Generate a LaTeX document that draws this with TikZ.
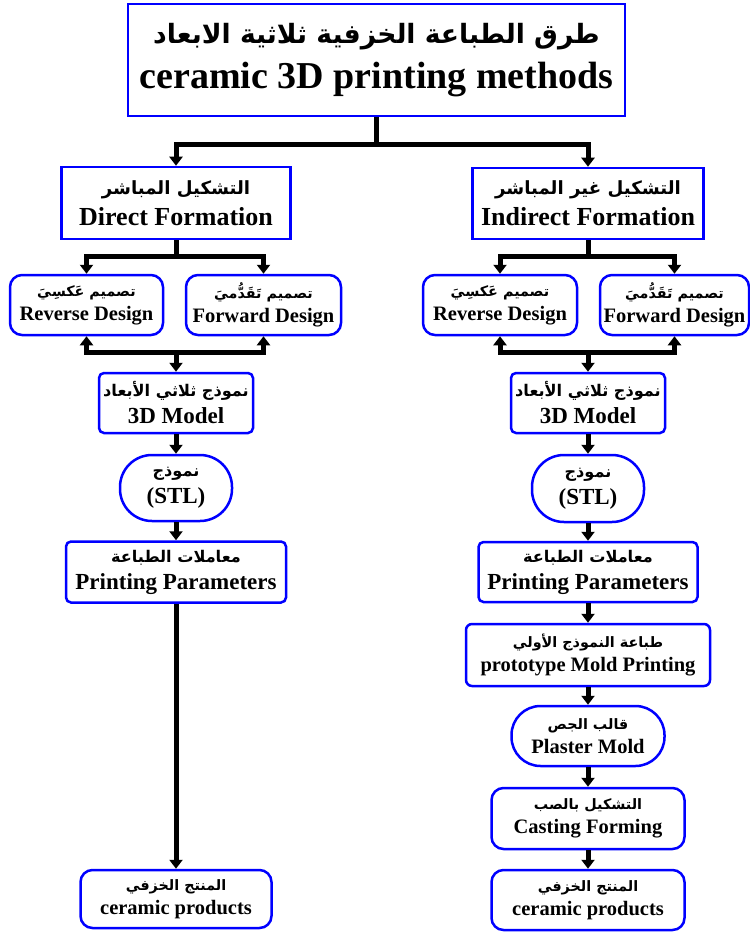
\documentclass[tikz,border=0pt]{standalone}
\usepackage{fontspec}
\setmainfont{Liberation Serif}
\newfontfamily\arabicfont[Script=Arabic,Scale=0.7]{DejaVu Sans}
\TeXXeTstate=1
\usetikzlibrary{arrows.meta, positioning, calc}
\newcommand{\artext}[1]{{\arabicfont\beginR#1\endR}}
\tikzset{
    box/.style={draw=blue, line width=2.5pt, fill=white, align=center, inner sep=0pt},
    flow/.style={line width=5pt, -{Triangle[width=13pt,length=9pt]}},
    link/.style={line width=5pt},
    hugetext/.style={font=\bfseries\fontsize{38}{45}\selectfont},
    bigtext/.style={font=\bfseries\fontsize{26}{31}\selectfont},
    midtext/.style={font=\bfseries\fontsize{23}{27}\selectfont},
    smalltext/.style={font=\bfseries\fontsize{20.5}{24}\selectfont},
}
\begin{document}
\begin{tikzpicture}[x=1pt, y=-1pt]
    \useasboundingbox (0,0) rectangle (749,933);

    % ---------------------------------------------------
    % Title and the two branches
    % ---------------------------------------------------
    \node[box, hugetext, minimum width=497, minimum height=112] (title) at (376.5,60)
        {\artext{طرق الطباعة الخزفية ثلاثية الابعاد}\\ceramic 3D printing methods};
    \node[box, bigtext, minimum width=229, minimum height=72] (direct) at (176,203)
        {\artext{التشكيل المباشر}\\Direct Formation};
    \node[box, bigtext, minimum width=231, minimum height=71] (indirect) at (588,203.5)
        {\artext{التشكيل غير المباشر}\\Indirect Formation};

    \coordinate (forkTop) at (376.5,145);
    \draw[link] (title.south) -- (forkTop);
    \draw[flow] (forkTop) -| (direct.north);
    \draw[flow] (forkTop) -| (indirect.north);

    % ---------------------------------------------------
    % Design boxes
    % ---------------------------------------------------
    \node[box, smalltext, rounded corners=12pt, minimum width=153, minimum height=60] (revL) at (86.5,305)
        {\artext{تصميم عَكسِيَ}\\Reverse Design};
    \node[box, smalltext, rounded corners=12pt, minimum width=155, minimum height=60] (fwdL) at (263.5,305)
        {\artext{تصميم تَقَدُّميَ}\\Forward Design};
    \node[box, smalltext, rounded corners=12pt, minimum width=154, minimum height=60] (revR) at (500,305)
        {\artext{تصميم عَكسِيَ}\\Reverse Design};
    \node[box, smalltext, rounded corners=12pt, minimum width=149, minimum height=60] (fwdR) at (674.5,305)
        {\artext{تصميم تَقَدُّميَ}\\Forward Design};

    \coordinate (forkL) at (176,256);
    \coordinate (forkR) at (588,256);
    \draw[link] (direct.south) -- (forkL);
    \draw[flow] (forkL) -| (revL.north);
    \draw[flow] (forkL) -| (fwdL.north);
    \draw[link] (indirect.south) -- (forkR);
    \draw[flow] (forkR) -| (revR.north);
    \draw[flow] (forkR) -| (fwdR.north);

    % ---------------------------------------------------
    % Left column (direct)
    % ---------------------------------------------------
    \node[box, midtext, rounded corners=5pt, minimum width=154, minimum height=60] (modelL) at (176,403)
        {\artext{نموذج ثلاثي الأبعاد}\\3D Model};
    \node[box, midtext, rounded corners=32pt, minimum width=112, minimum height=66] (stlL) at (176,488)
        {\artext{نموذج}\\(STL)};
    \node[box, midtext, rounded corners=5pt, minimum width=220, minimum height=61] (ppL) at (176,572)
        {\artext{معاملات الطباعة}\\Printing Parameters};
    \node[box, smalltext, rounded corners=12pt, minimum width=191, minimum height=58] (ceramL) at (176,899)
        {\artext{المنتج الخزفي}\\ceramic products};

    \coordinate (joinL) at (176,352);
    \draw[flow] (joinL) -| (revL.south);
    \draw[flow] (joinL) -| (fwdL.south);
    \draw[flow] (joinL) -- (modelL.north);
    \draw[flow] (modelL.south) -- (stlL.north);
    \draw[flow] (stlL.south) -- (ppL.north);
    \draw[flow] (ppL.south) -- (ceramL.north);

    % ---------------------------------------------------
    % Right column (indirect)
    % ---------------------------------------------------
    \node[box, midtext, rounded corners=5pt, minimum width=154, minimum height=60] (modelR) at (588,403)
        {\artext{نموذج ثلاثي الأبعاد}\\3D Model};
    \node[box, midtext, rounded corners=32pt, minimum width=112, minimum height=67] (stlR) at (588,488.5)
        {\artext{نموذج}\\(STL)};
    \node[box, midtext, rounded corners=5pt, minimum width=219, minimum height=60] (ppR) at (588,572)
        {\artext{معاملات الطباعة}\\Printing Parameters};
    \node[box, smalltext, rounded corners=6pt, minimum width=244, minimum height=62] (protoR) at (588,655)
        {\artext{طباعة النموذج الأولي}\\prototype Mold Printing};
    \node[box, smalltext, rounded corners=29pt, minimum width=153, minimum height=60] (plasterR) at (588,736)
        {\artext{قالب الجص}\\Plaster Mold};
    \node[box, smalltext, rounded corners=12pt, minimum width=193, minimum height=61] (castR) at (588,818.5)
        {\artext{التشكيل بالصب}\\Casting Forming};
    \node[box, smalltext, rounded corners=12pt, minimum width=193, minimum height=60] (ceramR) at (588,900)
        {\artext{المنتج الخزفي}\\ceramic products};

    \coordinate (joinR) at (588,352);
    \draw[flow] (joinR) -| (revR.south);
    \draw[flow] (joinR) -| (fwdR.south);
    \draw[flow] (joinR) -- (modelR.north);
    \draw[flow] (modelR.south) -- (stlR.north);
    \draw[flow] (stlR.south) -- (ppR.north);
    \draw[flow] (ppR.south) -- (protoR.north);
    \draw[flow] (protoR.south) -- (plasterR.north);
    \draw[flow] (plasterR.south) -- (castR.north);
    \draw[flow] (castR.south) -- (ceramR.north);
\end{tikzpicture}
\end{document}
